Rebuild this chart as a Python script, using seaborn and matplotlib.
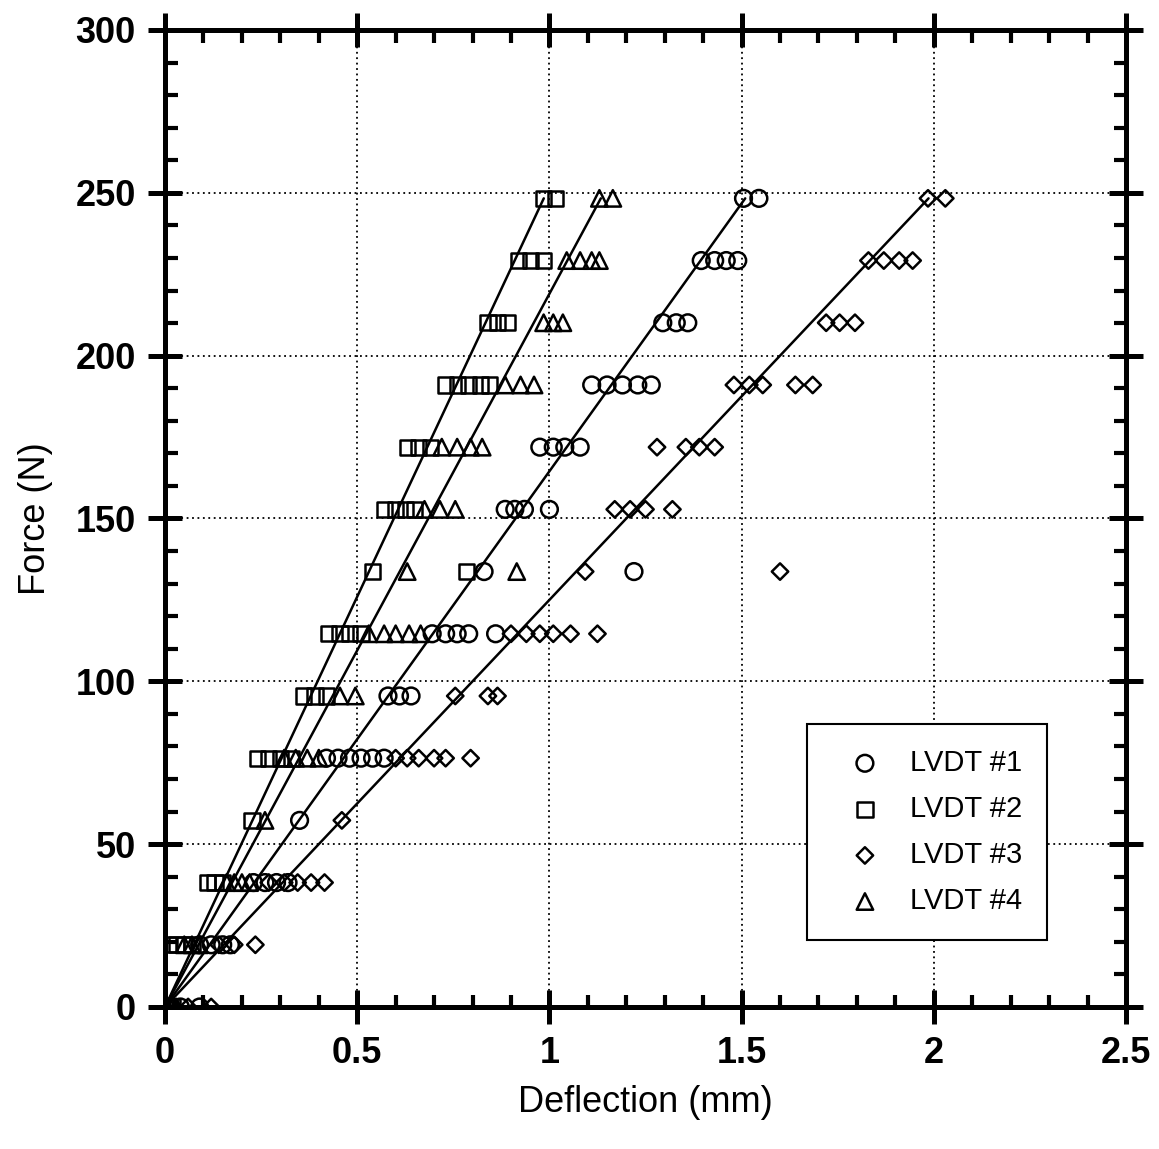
import numpy as np
import pandas as pd
import matplotlib.pyplot as plt
import seaborn as sns
from matplotlib.ticker import MultipleLocator

# -------------------------
# Data
# -------------------------
force_levels = [0, 19.1, 38.2, 57.3, 76.4, 95.5, 114.6, 133.7, 152.8, 171.9, 191.0, 210.1, 229.2, 248.3]

# deflections (mm) recorded at each force level, one list per level
lvdt1_defl = [[0.01, 0.04, 0.09], [0.09, 0.12, 0.15, 0.17], [0.23, 0.26, 0.29, 0.32], [0.35],
              [0.42, 0.45, 0.48, 0.51, 0.54, 0.57], [0.58, 0.61, 0.64], [0.695, 0.73, 0.76, 0.79, 0.86],
              [0.83, 1.22], [0.885, 0.91, 0.935, 1.0], [0.975, 1.01, 1.04, 1.08],
              [1.11, 1.15, 1.19, 1.23, 1.265], [1.295, 1.33, 1.36], [1.395, 1.43, 1.46, 1.49], [1.505, 1.545]]
lvdt2_defl = [[0.0, 0.01, 0.02], [0.01, 0.03, 0.05, 0.07], [0.11, 0.13, 0.15], [0.226],
              [0.24, 0.27, 0.30, 0.33], [0.36, 0.39, 0.42], [0.425, 0.455, 0.48, 0.51],
              [0.54, 0.785], [0.57, 0.60, 0.625, 0.65], [0.63, 0.66, 0.69],
              [0.73, 0.76, 0.79, 0.82, 0.845], [0.84, 0.865, 0.89], [0.92, 0.95, 0.985], [0.985, 1.015]]
lvdt3_defl = [[0.02, 0.06, 0.12], [0.14, 0.18, 0.235], [0.27, 0.31, 0.345, 0.38, 0.415], [0.46],
              [0.60, 0.63, 0.66, 0.70, 0.73, 0.795], [0.755, 0.84, 0.865], [0.90, 0.94, 0.975, 1.01, 1.055, 1.125],
              [1.093, 1.60], [1.17, 1.21, 1.25, 1.32], [1.28, 1.355, 1.39, 1.43],
              [1.48, 1.52, 1.555, 1.64, 1.685], [1.72, 1.755, 1.795], [1.83, 1.87, 1.91, 1.945], [1.985, 2.03]]
lvdt4_defl = [[0.0, 0.02, 0.03], [0.05, 0.07, 0.09], [0.16, 0.18, 0.20, 0.22], [0.26],
              [0.31, 0.34, 0.37, 0.40], [0.455, 0.495], [0.53, 0.57, 0.60, 0.635, 0.665],
              [0.63, 0.915], [0.675, 0.715, 0.755], [0.72, 0.76, 0.795, 0.825],
              [0.885, 0.925, 0.96], [0.985, 1.01, 1.035], [1.045, 1.08, 1.11, 1.13], [1.13, 1.165]]

labels = ["LVDT #1", "LVDT #2", "LVDT #3", "LVDT #4"]
stiffness = [164.5, 252.0, 125.0, 219.0]   # fitted slopes (N/mm)
all_defl = [lvdt1_defl, lvdt2_defl, lvdt3_defl, lvdt4_defl]

rows = []
for lab, series in zip(labels, all_defl):
    for f, xs in zip(force_levels, series):
        for x in xs:
            rows.append({"sensor": lab, "Deflection": x, "Force": f})
df = pd.DataFrame(rows)

# -------------------------
# Plot
# -------------------------
sns.set_style("ticks")
plt.rcParams["font.family"] = ["Liberation Sans", "DejaVu Sans"]
plt.rcParams["text.color"] = "black"
plt.rcParams["axes.labelcolor"] = "black"
plt.rcParams["xtick.color"] = "black"
plt.rcParams["ytick.color"] = "black"

fig = plt.figure(figsize=(11.59, 11.49), dpi=100)
ax = fig.add_axes([0.1424, 0.1236, 0.8291, 0.8503])

markers = {"LVDT #1": "o", "LVDT #2": "s", "LVDT #3": "D", "LVDT #4": "^"}
sizes = {"LVDT #1": 145, "LVDT #2": 120, "LVDT #3": 70, "LVDT #4": 140}

for lab, k in zip(labels, stiffness):
    sub = df[df["sensor"] == lab]
    sns.scatterplot(data=sub, x="Deflection", y="Force", marker=markers[lab], s=sizes[lab],
                    facecolors="none", edgecolors="black", linewidths=1.8, label=lab, ax=ax, zorder=3)
    fmax = max(force_levels)
    fit = pd.DataFrame({"Deflection": [0, fmax / k], "Force": [0, fmax]})
    sns.lineplot(data=fit, x="Deflection", y="Force", color="black", linewidth=1.8, ax=ax, zorder=2)

ax.set_xlim(0, 2.5)
ax.set_ylim(0, 300)
ax.set_xticks([0, 0.5, 1, 1.5, 2, 2.5])
ax.set_xticklabels(["0", "0.5", "1", "1.5", "2", "2.5"])
ax.xaxis.set_minor_locator(MultipleLocator(0.1))
ax.yaxis.set_major_locator(MultipleLocator(50))
ax.yaxis.set_minor_locator(MultipleLocator(10))

ax.grid(True, which="major", color="black", linestyle=(0, (1, 2)), linewidth=1.3)
for s in ax.spines.values():
    s.set_linewidth(3.6)
    s.set_color("black")

ax.tick_params(which="major", direction="inout", length=24, width=3.6, top=True, right=True,
               labelsize=26, pad=9)
ax.tick_params(which="minor", direction="in", length=9, width=3, top=True, right=True)
for t in ax.get_xticklabels() + ax.get_yticklabels():
    t.set_fontweight("bold")

ax.set_xlabel("Deflection (mm)", fontsize=26, labelpad=10)
ax.set_ylabel("Force (N)", fontsize=26, labelpad=16)

leg = ax.legend(loc="lower right", bbox_to_anchor=(0.918, 0.0686), borderaxespad=0, fontsize=21,
                frameon=True, fancybox=False, edgecolor="black", framealpha=1, handlelength=2.3,
                handletextpad=0.4, labelspacing=0.62, borderpad=0.85)
leg.get_frame().set_linewidth(1.5)

fig.savefig("out.png", dpi=100)
